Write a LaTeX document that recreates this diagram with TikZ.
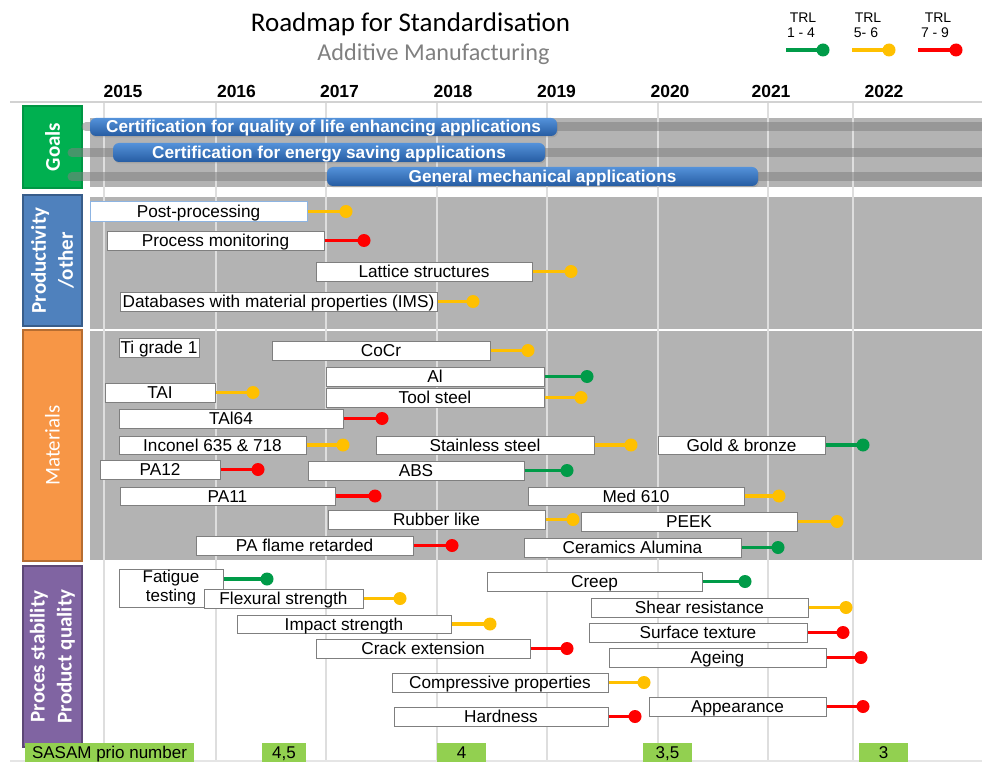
\documentclass[tikz,border=0pt]{standalone}
\usepackage{fontspec}
\setmainfont{Liberation Sans}
\newfontfamily\calibri{Carlito}
\usetikzlibrary{shadows}

\definecolor{trlgreen}{RGB}{0,155,72}
\definecolor{trlyellow}{RGB}{255,192,0}
\definecolor{trlred}{RGB}{255,0,0}
\definecolor{bggray}{RGB}{179,179,179}
\definecolor{gridline}{RGB}{222,222,222}
\definecolor{goalgreen}{RGB}{0,176,80}
\definecolor{prodblue}{RGB}{79,129,189}
\definecolor{prodblueedge}{RGB}{56,93,138}
\definecolor{matorange}{RGB}{247,150,70}
\definecolor{matorangeedge}{RGB}{182,109,49}
\definecolor{procpurple}{RGB}{128,100,162}
\definecolor{procpurpleedge}{RGB}{92,71,118}
\definecolor{prio}{RGB}{146,208,80}
\definecolor{bartop}{RGB}{84,146,218}
\definecolor{barbottom}{RGB}{38,92,162}
\definecolor{boxedge}{RGB}{127,127,127}
\definecolor{subgray}{RGB}{128,128,128}
\definecolor{ppedge}{RGB}{141,180,226}

\tikzset{
  tbox/.style={draw=boxedge, fill=white, line width=1pt, inner sep=0pt,
    font=\fontsize{17.2}{19}\selectfont, align=center},
  taskbox/.style={tbox, text height=13.5pt, text depth=1.5pt},
  trlline/.style={draw=#1, line width=3.8pt},
  catbox/.style={rotate=90, inner sep=0pt, text=white, line width=1.2pt,
    font=\calibri\fontsize{21}{27}\selectfont, align=center},
  goalbar/.style={rounded corners=6pt, top color=bartop, bottom color=barbottom,
    text=white, inner sep=0pt, font=\bfseries\fontsize{17.2}{19}\selectfont,
    text height=13.5pt, text depth=1.5pt,
    drop shadow={opacity=0.3, shadow xshift=1pt, shadow yshift=-1.5pt}},
  stripe/.style={draw=subgray, opacity=0.55, line width=9pt, line cap=round},
  priobox/.style={fill=prio, inner sep=0pt, font=\fontsize{17}{19}\selectfont,
    text height=13pt, text depth=2pt},
  year/.style={font=\bfseries\fontsize{17.5}{20}\selectfont, anchor=base},
  legendtext/.style={font=\fontsize{14}{16}\selectfont, anchor=base},
}

% box spanning x1..x2, y1..y2 (pixel grid, y downward)
\newcommand\roadbox[6]{%
  \node[taskbox, minimum width={#4-#2}, minimum height={#5-#3}] (#1)
    at ({(#2+#4)/2},{(#3+#5)/2}) {#6};}
% box followed by a TRL line ending in a dot at x = #8
\newcommand\roadtask[8]{%
  \roadbox{#1}{#2}{#3}{#4}{#5}{#6}
  \coordinate (#1-d) at (#8,{(#3+#5)/2});
  \draw[trlline=#7] (#1.east) -- (#1-d);
  \fill[#7] (#1-d) circle (6.5pt);}
\newcommand\priobox[6]{%
  \node[priobox, minimum width={#4-#2}, minimum height={#5-#3}] (#1)
    at ({(#2+#4)/2},{(#3+#5)/2}) {#6};}

\begin{document}
\begin{tikzpicture}[x=1pt, y=-1pt]
\useasboundingbox (0,0) rectangle (982,762);

% ---------- header ----------
\node[font=\calibri\fontsize{27}{30}\selectfont, anchor=base] (title) at (410.5,32) {Roadmap for Standardisation};
\node[font=\calibri\fontsize{24.2}{27}\selectfont, text=subgray, anchor=base] (subtitle) at (433.5,61) {Additive Manufacturing};

% legend
\node[legendtext] (lg1t) at (803,22.5) {TRL};
\node[legendtext] (lg1n) at (801,37.5) {1 - 4};
\node[legendtext] (lg2t) at (868,22.5) {TRL};
\node[legendtext] (lg2n) at (866,37.5) {5- 6};
\node[legendtext] (lg3t) at (938,22.5) {TRL};
\node[legendtext] (lg3n) at (935,37.5) {7 - 9};
\coordinate (lg1a) at (786,50); \coordinate (lg1b) at (823,50);
\coordinate (lg2a) at (852,50); \coordinate (lg2b) at (889,50);
\coordinate (lg3a) at (918,50); \coordinate (lg3b) at (956,50);
\draw[trlline=trlgreen] (lg1a) -- (lg1b); \fill[trlgreen] (lg1b) circle (6.5pt);
\draw[trlline=trlyellow] (lg2a) -- (lg2b); \fill[trlyellow] (lg2b) circle (6.5pt);
\draw[trlline=trlred] (lg3a) -- (lg3b); \fill[trlred] (lg3b) circle (6.5pt);

% years
\foreach \yr/\yx in {2015/123,2016/236.5,2017/339.5,2018/453,2019/556.5,2020/670,2021/771,2022/884}
  \node[year] (y\yr) at (\yx,97.5) {\yr};

% ---------- background ----------
\fill[bggray] (90,118) rectangle (982,187);
\fill[bggray] (90,197) rectangle (982,560);
\draw[white, line width=1.5pt] (90,330) -- (982,330);
\foreach \gx in {104,216,326,437,547,658,768,853}
  \draw[gridline, line width=2.5pt] (\gx,103) -- (\gx,762);
\draw[gray!35, line width=2pt] (10,102) -- (982,102);
\draw[gray!20, line width=1.5pt] (10,761) -- (982,761);

% ---------- category boxes ----------
\node[catbox, fill=goalgreen, draw=goalgreen!85!black, minimum width=82, minimum height=59] (goals) at (52.5,147) {\bfseries Goals};
\node[catbox, fill=prodblue, draw=prodblueedge, minimum width=131, minimum height=59] (prod) at (52.5,260.5) {\bfseries Productivity\\\bfseries /other};
\node[catbox, fill=matorange, draw=matorangeedge, minimum width=231, minimum height=59] (mat) at (52.5,445.5) {Materials};
\node[catbox, fill=procpurple, draw=procpurpleedge, minimum width=181, minimum height=59] (proc) at (52.5,656.5) {\bfseries Proces stability\\\bfseries Product quality};

% ---------- goals ----------
\draw[stripe] (86,127) -- (982,127);
\draw[stripe] (72,153) -- (982,153);
\draw[stripe] (72,177) -- (982,177);
\node[goalbar, minimum width=467, minimum height=18] (g1) at (323.5,127) {Certification for quality of life enhancing applications};
\node[goalbar, minimum width=432, minimum height=19] (g2) at (329,152.5) {Certification for energy saving applications};
\node[goalbar, minimum width=431, minimum height=19] (g3) at (542.5,176.5) {General mechanical applications};

% ---------- productivity / other ----------
\node[taskbox, draw=ppedge, minimum width=217, minimum height=19] (pp) at (198.5,211.5) {Post-processing};
\coordinate (pp-d) at (346,211.5);
\draw[trlline=trlyellow] (pp.east) -- (pp-d); \fill[trlyellow] (pp-d) circle (6.5pt);
\roadtask{pm}{107}{231}{324}{250}{Process monitoring}{trlred}{364}
\roadtask{ls}{316}{262}{532}{281}{Lattice structures}{trlyellow}{571}
\roadtask{db}{120}{292}{437}{311}{Databases with material properties (IMS)}{trlyellow}{473}

% ---------- materials ----------
\roadbox{ti}{119}{338}{199}{357}{Ti grade 1}
\roadtask{cocr}{272}{341}{490}{360}{CoCr}{trlyellow}{528}
\roadtask{al}{326}{367}{544}{386}{Al}{trlgreen}{587}
\roadtask{tool}{326}{388}{544}{407}{Tool steel}{trlyellow}{581}
\roadtask{tai}{105}{383}{215}{402}{TAI}{trlyellow}{253}
\roadtask{tai64}{119}{409}{343}{428}{TAl64}{trlred}{382}
\roadtask{inc}{119}{436}{306}{454}{Inconel 635 \& 718}{trlyellow}{343}
\roadtask{ss}{376}{436}{594}{454}{Stainless steel}{trlyellow}{631}
\roadtask{gold}{658}{436}{825}{454}{Gold \& bronze}{trlgreen}{863}
\roadtask{pa12}{100}{460}{220}{479}{PA12}{trlred}{258}
\roadtask{abs}{308}{461}{524}{480}{ABS}{trlgreen}{567}
\roadtask{pa11}{120}{487}{335}{505}{PA11}{trlred}{375}
\roadtask{med}{528}{487}{744}{505}{Med 610}{trlyellow}{779}
\roadtask{rub}{328}{510}{545}{529}{Rubber like}{trlyellow}{573}
\roadtask{peek}{581}{512}{797}{531}{PEEK}{trlyellow}{837}
\roadtask{paf}{196}{536}{413}{555}{PA flame retarded}{trlred}{452}
\roadtask{cer}{524}{538}{741}{557}{Ceramics Alumina}{trlgreen}{778}

% ---------- process stability / product quality ----------
\node[tbox, font=\fontsize{17}{19}\selectfont, minimum width=104, minimum height=38] (fat) at (171,588) {Fatigue\\testing};
\coordinate (fat-d) at (267,579);
\draw[trlline=trlgreen] (fat.east |- fat-d) -- (fat-d); \fill[trlgreen] (fat-d) circle (6.5pt);
\roadtask{flex}{204}{589}{363}{608}{Flexural strength}{trlyellow}{400}
\roadtask{imp}{237}{615}{451}{633}{Impact strength}{trlyellow}{490}
\roadtask{crack}{316}{639}{530}{658}{Crack extension}{trlred}{567}
\roadtask{creep}{487}{572}{702}{591}{Creep}{trlgreen}{745}
\roadtask{shear}{591}{598}{808}{617}{Shear resistance}{trlyellow}{846}
\roadtask{surf}{589}{623}{807}{642}{Surface texture}{trlred}{843}
\roadtask{age}{609}{648}{826}{667}{Ageing}{trlred}{861}
\roadtask{comp}{392}{673}{608}{692}{Compressive properties}{trlyellow}{644}
\roadtask{app}{649}{697}{826}{716}{Appearance}{trlred}{863}
\roadtask{hard}{394}{707}{608}{726}{Hardness}{trlred}{635}

% ---------- SASAM priorities ----------
\priobox{sasam}{25}{743}{194}{762}{SASAM prio number}
\priobox{p45}{262}{743}{306}{762}{4,5}
\priobox{p4}{437}{743}{486}{762}{4}
\priobox{p35}{643}{743}{692}{762}{3,5}
\priobox{p3}{859}{743}{908}{762}{3}
\end{tikzpicture}
\end{document}
